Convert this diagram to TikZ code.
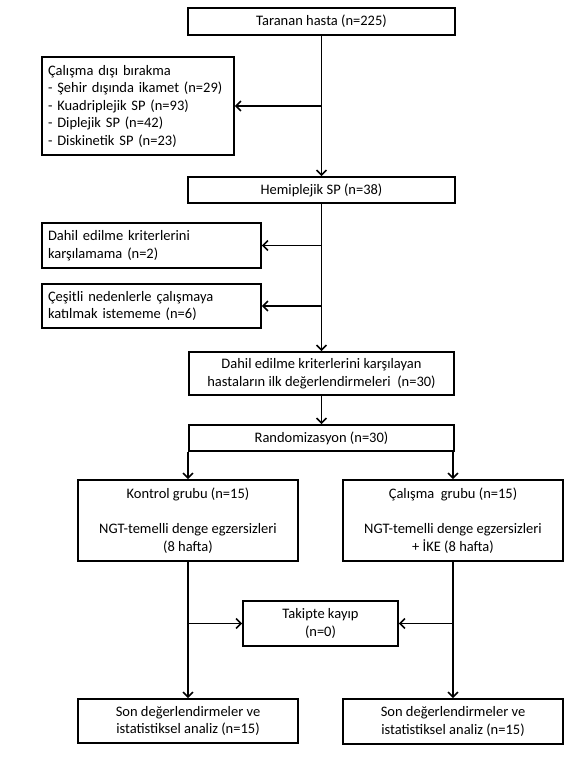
\documentclass[tikz,border=0pt]{standalone}
\usepackage{fontspec}
\setmainfont{Carlito}
\usetikzlibrary{arrows.meta}

\begin{document}
\begin{tikzpicture}[x=1pt,y=-1pt,font=\fontsize{14.5}{17.5}\selectfont]
       \tikzstyle{box}=[draw,line width=1.8pt,inner sep=0pt,align=center]
       \tikzstyle{leftbox}=[box,align=left,inner xsep=6pt,text width=#1]
       \tikzstyle{arr}=[line width=1.5pt,-{Straight Barb[length=5pt,width=10pt,line width=1.5pt]}]
       \useasboundingbox (0,0) rectangle (576,768);
       % main column
       \node[box,minimum width=267pt,minimum height=27pt] (tara) at (321.5,21.5) {Taranan hasta (n=225)};
       \node[box,minimum width=267pt,minimum height=26pt] (hemi) at (321.5,190) {Hemiplejik SP (n=38)};
       \node[box,minimum width=265pt,minimum height=43pt] (kriter) at (321.5,373.5) {Dahil edilme kriterlerini karşılayan\\hastaların ilk değerlendirmeleri~~(n=30)};
       \node[box,minimum width=265pt,minimum height=26pt] (rand) at (321.5,438) {Randomizasyon (n=30)};
       % exclusions
       \node[leftbox=180pt,minimum height=98pt] (excl) at (138,106) {Çalışma dışı bırakma\\- Şehir dışında ikamet (n=29)\\- Kuadriplejik SP (n=93)\\- Diplejik SP (n=42)\\- Diskinetik SP (n=23)};
       \node[leftbox=207pt,minimum height=45pt] (dahil) at (151.5,245.5) {Dahil edilme kriterlerini\\karşılamama (n=2)};
       \node[leftbox=207pt,minimum height=44pt] (cesit) at (151.5,306) {Çeşitli nedenlerle çalışmaya\\katılmak istememe (n=6)};
       % groups
       \node[box,minimum width=220pt,minimum height=81pt] (kont) at (188,520.5) {Kontrol grubu (n=15)\\[17.5pt]NGT-temelli denge egzersizleri\\(8 hafta)};
       \node[box,minimum width=220pt,minimum height=81pt] (calis) at (453,520.5) {Çalışma~~grubu (n=15)\\[17.5pt]NGT-temelli denge egzersizleri\\+ İKE (8 hafta)};
       \node[box,minimum width=155pt,minimum height=45pt] (takip) at (320.5,623.5) {Takipte kayıp\\(n=0)};
       \node[box,minimum width=220pt,minimum height=44pt] (sonL) at (188,721) {Son değerlendirmeler ve\\istatistiksel analiz (n=15)};
       \node[box,minimum width=220pt,minimum height=45pt] (sonR) at (453,721.5) {Son değerlendirmeler ve\\istatistiksel analiz (n=15)};
       % connectors
       \draw[arr] (tara) -- (hemi);
       \draw[arr] (tara.south |- excl.east) -- (excl.east);
       \draw[arr] (hemi) -- (kriter);
       \draw[arr] (hemi.south |- dahil.east) -- (dahil.east);
       \draw[arr] (hemi.south |- cesit.east) -- (cesit.east);
       \draw[arr] (kriter) -- (rand);
       \draw[arr] (kont.north |- rand.south) -- (kont.north);
       \draw[arr] (calis.north |- rand.south) -- (calis.north);
       \draw[arr] (kont) -- (sonL);
       \draw[arr] (calis) -- (sonR);
       \draw[arr] (kont.south |- takip.west) -- (takip.west);
       \draw[arr] (calis.south |- takip.east) -- (takip.east);
      \end{tikzpicture}
\end{document}
